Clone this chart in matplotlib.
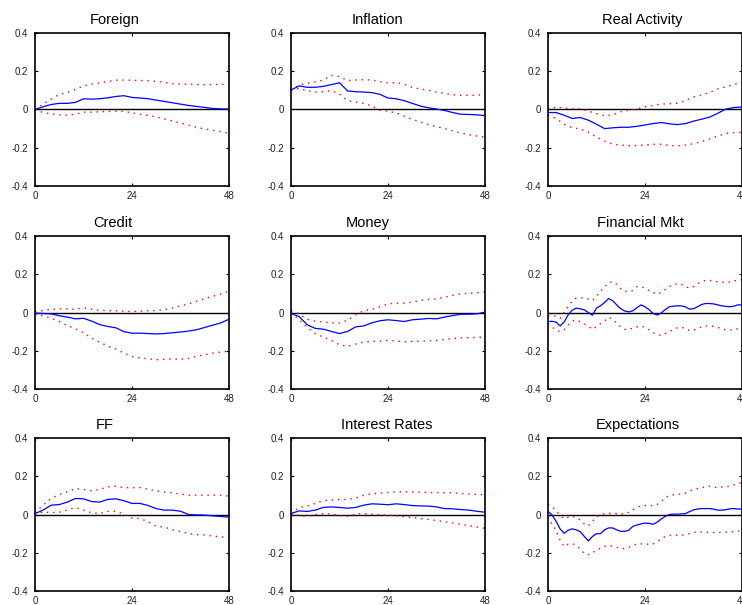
import matplotlib
matplotlib.use("Agg")
import matplotlib.pyplot as plt
import numpy as np

matplotlib.rc('font', family='Liberation Sans')
matplotlib.rc('xtick', labelsize=7)
matplotlib.rc('ytick', labelsize=7)

# horizons (months)
t2 = np.arange(0, 49, 2)
t1 = np.arange(0, 49)

titles = ['Foreign', 'Inflation', 'Real Activity',
          'Credit', 'Money', 'Financial Mkt',
          'FF', 'Interest Rates', 'Expectations']

foreign_irf = [0.000, 0.014, 0.026, 0.032, 0.032, 0.037, 0.056, 0.054, 0.056, 0.061, 0.068, 0.072, 0.063,
               0.060, 0.056, 0.049, 0.042, 0.035, 0.028, 0.021, 0.016, 0.011, 0.005, 0.003, 0.002]
foreign_hi = [0.000, 0.028, 0.054, 0.079, 0.089, 0.105, 0.123, 0.132, 0.139, 0.146, 0.153, 0.154, 0.153,
              0.151, 0.151, 0.147, 0.142, 0.135, 0.133, 0.132, 0.130, 0.130, 0.130, 0.132, 0.130]
foreign_lo = [0.000, -0.016, -0.023, -0.028, -0.030, -0.025, -0.014, -0.014, -0.012, -0.011, -0.009, -0.009, -0.018,
              -0.025, -0.032, -0.039, -0.049, -0.060, -0.070, -0.082, -0.093, -0.102, -0.109, -0.116, -0.125]

inflation_irf = [0.102, 0.123, 0.116, 0.116, 0.121, 0.130, 0.140, 0.097, 0.093, 0.091, 0.088, 0.079, 0.060,
                 0.056, 0.046, 0.032, 0.018, 0.009, 0.002, -0.005, -0.016, -0.025, -0.026, -0.028, -0.032]
inflation_hi = [0.100, 0.128, 0.137, 0.144, 0.154, 0.178, 0.172, 0.151, 0.154, 0.156, 0.154, 0.146, 0.139,
                0.140, 0.132, 0.116, 0.107, 0.100, 0.091, 0.084, 0.077, 0.074, 0.074, 0.075, 0.077]
inflation_lo = [0.100, 0.110, 0.098, 0.091, 0.093, 0.098, 0.080, 0.046, 0.039, 0.032, 0.018, -0.004, -0.009,
                -0.018, -0.035, -0.051, -0.065, -0.079, -0.089, -0.100, -0.112, -0.123, -0.132, -0.139, -0.144]

ra_irf = [-0.016, -0.016, -0.030, -0.047, -0.042, -0.056, -0.077, -0.100, -0.096, -0.093, -0.093, -0.088, -0.081,
          -0.074, -0.068, -0.075, -0.079, -0.074, -0.061, -0.051, -0.040, -0.020, 0.002, 0.010, 0.013]
ra_hi = [-0.004, 0.014, 0.007, 0.004, 0.004, -0.009, -0.021, -0.033, -0.028, -0.012, -0.004, 0.002, 0.014,
         0.021, 0.028, 0.030, 0.033, 0.046, 0.065, 0.075, 0.089, 0.107, 0.119, 0.130, 0.142]
ra_lo = [-0.030, -0.047, -0.077, -0.095, -0.102, -0.119, -0.144, -0.165, -0.182, -0.186, -0.189, -0.189, -0.186,
         -0.182, -0.182, -0.188, -0.191, -0.186, -0.179, -0.168, -0.154, -0.139, -0.126, -0.121, -0.119]

credit_irf = [-0.003, -0.005, -0.007, -0.017, -0.024, -0.033, -0.030, -0.045, -0.063, -0.073, -0.080, -0.100, -0.108,
              -0.108, -0.110, -0.112, -0.110, -0.106, -0.102, -0.097, -0.090, -0.078, -0.066, -0.054, -0.035]
credit_hi = [0.005, 0.010, 0.017, 0.019, 0.019, 0.017, 0.024, 0.017, 0.012, 0.010, 0.009, 0.007, 0.005,
             0.007, 0.009, 0.010, 0.016, 0.023, 0.035, 0.045, 0.059, 0.073, 0.085, 0.097, 0.111]
credit_lo = [-0.010, -0.017, -0.030, -0.047, -0.068, -0.085, -0.106, -0.134, -0.155, -0.176, -0.191, -0.212, -0.230,
             -0.237, -0.242, -0.247, -0.245, -0.242, -0.245, -0.240, -0.228, -0.221, -0.212, -0.207, -0.202]

money_irf = [-0.005, -0.021, -0.064, -0.083, -0.087, -0.099, -0.110, -0.099, -0.075, -0.070, -0.054, -0.043, -0.038,
             -0.042, -0.047, -0.038, -0.035, -0.031, -0.033, -0.024, -0.016, -0.009, -0.009, -0.007, 0.002]
money_hi = [0.009, -0.008, -0.035, -0.045, -0.050, -0.054, -0.055, -0.040, -0.012, 0.009, 0.016, 0.031, 0.045,
            0.049, 0.049, 0.054, 0.064, 0.068, 0.071, 0.080, 0.090, 0.097, 0.101, 0.103, 0.108]
money_lo = [0.000, -0.038, -0.078, -0.110, -0.129, -0.146, -0.169, -0.177, -0.165, -0.155, -0.151, -0.150, -0.146,
            -0.148, -0.153, -0.151, -0.150, -0.148, -0.146, -0.141, -0.136, -0.132, -0.132, -0.130, -0.129]

fm_irf = [-0.047, -0.046, -0.050, -0.070, -0.050, -0.012, 0.012, 0.023, 0.019, 0.014,
          0.000, -0.014, 0.023, 0.035, 0.052, 0.073, 0.062, 0.040, 0.020, 0.008,
          0.003, 0.009, 0.025, 0.040, 0.030, 0.015, -0.005, -0.013, -0.003, 0.015,
          0.030, 0.033, 0.035, 0.035, 0.030, 0.018, 0.020, 0.030, 0.042, 0.047,
          0.047, 0.045, 0.040, 0.035, 0.032, 0.030, 0.033, 0.040, 0.040]
fm_hi = [-0.020, -0.015, -0.020, -0.030, 0.000, 0.030, 0.060, 0.075, 0.078, 0.075,
         0.070, 0.062, 0.085, 0.110, 0.135, 0.155, 0.162, 0.148, 0.125, 0.112,
         0.108, 0.115, 0.135, 0.135, 0.128, 0.115, 0.105, 0.095, 0.105, 0.120,
         0.135, 0.145, 0.150, 0.148, 0.135, 0.128, 0.135, 0.150, 0.162, 0.168,
         0.168, 0.165, 0.160, 0.158, 0.158, 0.160, 0.165, 0.170, 0.170]
fm_lo = [-0.060, -0.075, -0.090, -0.100, -0.090, -0.065, -0.045, -0.040, -0.048, -0.060,
         -0.072, -0.088, -0.075, -0.058, -0.045, -0.025, -0.035, -0.055, -0.075, -0.088,
         -0.088, -0.082, -0.075, -0.070, -0.078, -0.090, -0.105, -0.115, -0.120, -0.110,
         -0.100, -0.090, -0.080, -0.078, -0.082, -0.095, -0.092, -0.085, -0.075, -0.070,
         -0.070, -0.072, -0.078, -0.085, -0.090, -0.092, -0.088, -0.085, -0.082]

ff_irf = [0.005, 0.023, 0.049, 0.052, 0.065, 0.084, 0.082, 0.068, 0.065, 0.079, 0.082, 0.072, 0.058,
          0.058, 0.047, 0.031, 0.023, 0.023, 0.017, 0.000, -0.002, -0.003, -0.007, -0.010, -0.014]
ff_hi = [0.010, 0.049, 0.084, 0.105, 0.119, 0.136, 0.131, 0.124, 0.131, 0.145, 0.148, 0.141, 0.140,
         0.141, 0.131, 0.124, 0.117, 0.114, 0.107, 0.101, 0.101, 0.101, 0.101, 0.101, 0.096]
ff_lo = [-0.003, 0.014, 0.010, 0.012, 0.023, 0.037, 0.023, 0.009, 0.005, 0.016, 0.017, 0.002, -0.019,
         -0.021, -0.038, -0.061, -0.066, -0.079, -0.089, -0.100, -0.105, -0.107, -0.112, -0.117, -0.121]

ir_irf = [0.005, 0.019, 0.016, 0.023, 0.037, 0.040, 0.037, 0.033, 0.037, 0.049, 0.056, 0.054, 0.051,
          0.056, 0.052, 0.047, 0.045, 0.044, 0.040, 0.031, 0.030, 0.026, 0.023, 0.017, 0.012]
ir_hi = [0.005, 0.037, 0.044, 0.058, 0.072, 0.075, 0.079, 0.079, 0.086, 0.101, 0.108, 0.112, 0.115,
         0.119, 0.119, 0.117, 0.117, 0.115, 0.115, 0.114, 0.114, 0.110, 0.107, 0.105, 0.103]
ir_lo = [0.002, -0.005, -0.010, 0.000, 0.005, 0.002, -0.005, -0.009, 0.002, 0.005, 0.002, -0.002, -0.003,
         -0.007, -0.012, -0.016, -0.021, -0.026, -0.031, -0.038, -0.044, -0.051, -0.058, -0.065, -0.072]

exp_irf = [0.017, -0.002, -0.035, -0.075, -0.098, -0.082, -0.075, -0.080, -0.090, -0.115,
           -0.138, -0.115, -0.100, -0.100, -0.080, -0.070, -0.070, -0.080, -0.088, -0.088,
           -0.082, -0.062, -0.055, -0.049, -0.045, -0.046, -0.051, -0.040, -0.024, -0.010,
           0.000, 0.002, 0.002, 0.003, 0.005, 0.015, 0.024, 0.029, 0.031, 0.031,
           0.031, 0.028, 0.023, 0.023, 0.025, 0.030, 0.031, 0.029, 0.028]
exp_hi = [0.052, 0.042, 0.020, -0.005, -0.022, -0.015, -0.010, -0.013, -0.030, -0.050,
          -0.060, -0.035, -0.012, -0.002, 0.004, 0.006, 0.007, 0.005, 0.002, 0.003,
          0.012, 0.025, 0.037, 0.045, 0.047, 0.047, 0.047, 0.052, 0.068, 0.088,
          0.100, 0.103, 0.105, 0.108, 0.112, 0.122, 0.130, 0.136, 0.140, 0.146,
          0.147, 0.143, 0.141, 0.144, 0.146, 0.148, 0.155, 0.162, 0.168]
exp_lo = [-0.012, -0.050, -0.082, -0.135, -0.168, -0.155, -0.152, -0.161, -0.180, -0.205,
          -0.210, -0.200, -0.187, -0.176, -0.167, -0.164, -0.165, -0.172, -0.178, -0.178,
          -0.172, -0.161, -0.154, -0.153, -0.155, -0.155, -0.155, -0.142, -0.128, -0.115,
          -0.110, -0.108, -0.108, -0.108, -0.105, -0.100, -0.094, -0.091, -0.091, -0.092,
          -0.094, -0.094, -0.094, -0.093, -0.092, -0.091, -0.089, -0.087, -0.085]

yticks = [-0.4, -0.2, 0, 0.2, 0.4]
ytick_labels = ['-0.4', '-0.2', '0', '0.2', '0.4']
xticks = [0, 24, 48]
xtick_labels = ['0', '24', '48']

panels = [
    (t2, foreign_irf, foreign_hi, foreign_lo),
    (t2, inflation_irf, inflation_hi, inflation_lo),
    (t2, ra_irf, ra_hi, ra_lo),
    (t2, credit_irf, credit_hi, credit_lo),
    (t2, money_irf, money_hi, money_lo),
    (t1, fm_irf, fm_hi, fm_lo),
    (t2, ff_irf, ff_hi, ff_lo),
    (t2, ir_irf, ir_hi, ir_lo),
    (t1, exp_irf, exp_hi, exp_lo),
]

# layout in figure fractions (picked to line up with the original grid)
col_left = [0.0472, 0.3922, 0.7385]
row_bottom = [0.6926, 0.357, 0.0231]
ax_w = 0.2615
ax_h = 0.2529
title_x = [0.41, 0.443, 0.485, 0.402, 0.397, 0.479, 0.361, 0.495, 0.464]

fig = plt.figure(figsize=(7.42, 6.05), dpi=100)

for i, (t, irf, hi, lo) in enumerate(panels):
    r, c = divmod(i, 3)
    ax = fig.add_axes([col_left[c], row_bottom[r], ax_w, ax_h])
    ax.axhline(0, color='black', lw=1.0, zorder=1)
    ax.plot(t, hi, color='red', lw=1.0, linestyle=(0, (1, 3.5)), zorder=2)
    ax.plot(t, lo, color='red', lw=1.0, linestyle=(0, (1, 3.5)), zorder=2)
    ax.plot(t, irf, color='blue', lw=0.9, zorder=3)
    ax.set_xlim(0, 48)
    ax.set_ylim(-0.4, 0.4)
    ax.set_xticks(xticks)
    ax.set_xticklabels(xtick_labels)
    ax.set_yticks(yticks)
    ax.set_yticklabels(ytick_labels)
    ax.tick_params(direction='in', length=2.5, width=0.8, top=True, right=True,
                   labelcolor='#222222')
    ax.tick_params(axis='y', pad=5)
    ax.tick_params(axis='x', pad=3.5)
    for sp in ax.spines.values():
        sp.set_linewidth(1.2)
    ax.set_title(titles[i], fontsize=10.5, x=title_x[i], pad=6.5)

plt.savefig('out.png', dpi=100)
plt.close()
